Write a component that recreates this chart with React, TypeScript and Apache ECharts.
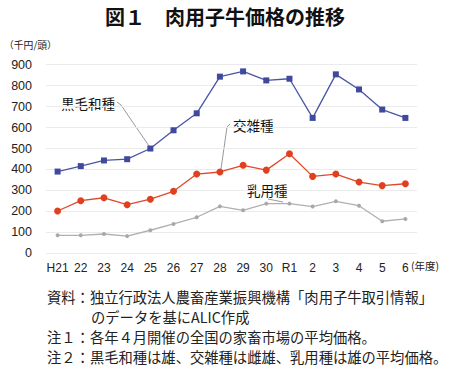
import React, { useEffect, useRef } from "react";
import * as echarts from "echarts";

const categories = ["H21", "22", "23", "24", "25", "26", "27", "28", "29", "30", "R1", "2", "3", "4", "5", "6"];
const wagyu = [390, 416, 443, 449, 500, 587, 668, 843, 868, 825, 833, 646, 854, 782, 686, 646];
const crossbred = [202, 251, 265, 232, 258, 296, 378, 388, 420, 397, 475, 367, 378, 340, 323, 332];
const dairy = [86, 86, 92, 82, 110, 140, 172, 224, 205, 237, 237, 223, 248, 227, 153, 164];
const yTicks = [0, 100, 200, 300, 400, 500, 600, 700, 800, 900];

const FONT = "'Liberation Sans', Arial, 'Noto Sans CJK JP', sans-serif";
const JFONT = "'Noto Sans CJK JP', sans-serif";

export default function App() {
  const ref = useRef<HTMLDivElement>(null);
  useEffect(() => {
    if (!ref.current) return;
    const chart = echarts.init(ref.current, undefined, { renderer: "svg" });
    const noteStyle = { fill: "#222", fontSize: 14.3, fontFamily: JFONT, verticalAlign: "middle" };
    const labelStyle = { fill: "#111", fontSize: 13.5, fontFamily: JFONT, verticalAlign: "middle" };
    chart.setOption({
      animation: false,
      grid: { left: 46, right: 33, top: 64.7, bottom: 117.7 },
      xAxis: {
        type: "category",
        data: categories,
        boundaryGap: true,
        axisLine: { show: false },
        axisTick: { show: false },
        axisLabel: { color: "#222", fontSize: 12, fontFamily: FONT, margin: 9, interval: 0 },
      },
      yAxis: {
        type: "value",
        min: yTicks[0],
        max: yTicks[yTicks.length - 1],
        interval: 100,
        axisLine: { show: false },
        axisTick: { show: false },
        axisLabel: { color: "#222", fontSize: 12.5, fontFamily: FONT, margin: 14 },
        splitLine: { lineStyle: { color: "#ebebeb", width: 1 } },
      },
      series: [
        {
          name: "黒毛和種",
          type: "line",
          data: wagyu,
          symbol: "rect",
          symbolSize: 6,
          lineStyle: { color: "#4a54a6", width: 1.3 },
          itemStyle: { color: "#3f4a9e" },
        },
        {
          name: "交雑種",
          type: "line",
          data: crossbred,
          symbol: "circle",
          symbolSize: 7,
          lineStyle: { color: "#e0482a", width: 1.3 },
          itemStyle: { color: "#e0401e" },
        },
        {
          name: "乳用種",
          type: "line",
          data: dairy,
          symbol: "circle",
          symbolSize: 4,
          lineStyle: { color: "#b0b0b0", width: 1.3 },
          itemStyle: { color: "#a8a8a8" },
        },
      ],
      graphic: [
        { type: "text", x: 225, y: 16, style: { text: "図１　肉用子牛価格の推移", fill: "#111", fontSize: 20, fontWeight: "bold", fontFamily: JFONT, align: "center", verticalAlign: "middle" } },
        { type: "text", x: 4, y: 45, style: { text: "（千円/頭）", fill: "#222", fontSize: 9.8, fontFamily: JFONT, verticalAlign: "middle" } },
        { type: "text", x: 411, y: 265, style: { text: "(年度)", fill: "#222", fontSize: 10.5, fontFamily: JFONT, verticalAlign: "middle" } },
        { type: "text", x: 61, y: 103, style: { ...labelStyle, text: "黒毛和種" } },
        { type: "polyline", shape: { points: [[117, 102], [121, 105], [149, 146]] }, style: { stroke: "#999", lineWidth: 1, fill: "none" } },
        { type: "text", x: 233, y: 125, style: { ...labelStyle, text: "交雑種" } },
        { type: "polyline", shape: { points: [[230, 124], [227, 127], [221, 169]] }, style: { stroke: "#999", lineWidth: 1, fill: "none" } },
        { type: "text", x: 247, y: 190, style: { ...labelStyle, text: "乳用種" } },
        { type: "line", shape: { x1: 268, y1: 199, x2: 283, y2: 202 }, style: { stroke: "#999", lineWidth: 1 } },
        { type: "text", x: 47, y: 296, style: { ...noteStyle, text: "資料：独立行政法人農畜産業振興機構「肉用子牛取引情報」" } },
        { type: "text", x: 91, y: 316, style: { ...noteStyle, text: "のデータを基にALIC作成" } },
        { type: "text", x: 47, y: 336, style: { ...noteStyle, text: "注１：各年４月開催の全国の家畜市場の平均価格。" } },
        { type: "text", x: 47, y: 356, style: { ...noteStyle, text: "注２：黒毛和種は雄、交雑種は雌雄、乳用種は雄の平均価格。" } },
      ],
    });
    return () => chart.dispose();
  }, []);
  return <div ref={ref} style={{ width: 450, height: 371, position: "absolute", left: 0, top: 0, background: "#fff" }} />;
}
